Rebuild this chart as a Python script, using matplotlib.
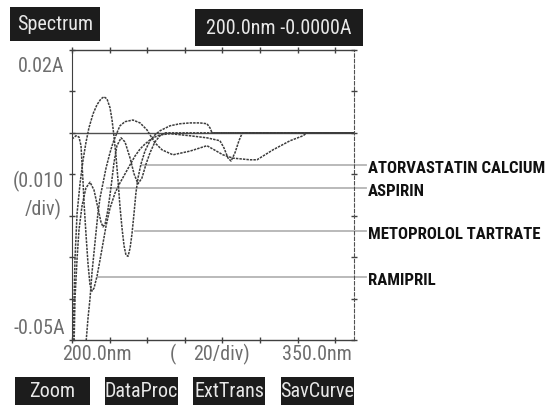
import matplotlib
matplotlib.use("Agg")
import matplotlib.pyplot as plt
from matplotlib import font_manager as fm
from matplotlib.patches import Rectangle

# ---------------- data ----------------
# wavelength (nm) / derivative absorbance (A)
metoprolol_nm = [200.5, 201.1, 201.6, 202.7, 204.3, 205.9, 207.4, 209.0, 211.2, 213.3, 215.4, 217.0,
                 218.6, 220.2, 221.3, 222.3, 223.4, 224.5, 225.5, 226.6, 227.7, 228.7, 229.8, 230.9,
                 231.9, 233.0, 234.0, 235.1, 236.7, 238.8, 241.5, 244.1, 246.8, 252.1, 257.4, 262.8,
                 268.1, 271.8, 273.4, 274.5, 350.0]
metoprolol_a = [-0.0510, -0.0399, -0.0303, -0.0194, -0.0121, -0.0065, -0.0024, 0.0012, 0.0046, 0.0068,
                0.0082, 0.0087, 0.0082, 0.0061, 0.0031, -0.0007, -0.0056, -0.0116, -0.0177, -0.0230,
                -0.0273, -0.0295, -0.0298, -0.0278, -0.0244, -0.0194, -0.0145, -0.0109, -0.0075, -0.0044,
                -0.0019, -0.0005, 0.0005, 0.0017, 0.0022, 0.0024, 0.0024, 0.0022, 0.0012, 0.0000, 0.0000]

atorvastatin_nm = [207.4, 208.5, 209.6, 210.6, 212.2, 213.8, 214.9, 216.5, 218.1, 220.2, 221.8, 223.9,
                   225.5, 228.2, 232.4, 236.2, 239.9, 244.1, 247.9, 253.7, 262.8, 271.8, 280.3, 285.6,
                   294.7, 298.4, 306.9, 316.0, 322.9, 325.0, 350.0]
atorvastatin_a = [-0.0510, -0.0448, -0.0399, -0.0339, -0.0266, -0.0194, -0.0157, -0.0121, -0.0085,
                  -0.0048, -0.0024, 0.0000, 0.0017, 0.0027, 0.0031, 0.0024, 0.0007, -0.0024, -0.0041,
                  -0.0053, -0.0044, -0.0031, -0.0053, -0.0061, -0.0065, -0.0065, -0.0041, -0.0019,
                  -0.0007, 0.0000, 0.0000]

aspirin_nm = [201.1, 201.6, 202.7, 203.7, 205.3, 207.4, 209.6, 211.7, 213.8, 215.4, 216.5, 217.6, 219.1,
              220.7, 222.3, 223.9, 226.1, 228.2, 230.9, 233.0, 235.1, 237.2, 239.4, 241.5, 244.1, 246.8,
              249.5, 350.0]
aspirin_a = [-0.0510, -0.0399, -0.0303, -0.0235, -0.0177, -0.0133, -0.0119, -0.0138, -0.0182, -0.0215,
             -0.0227, -0.0220, -0.0186, -0.0133, -0.0073, -0.0031, -0.0012, -0.0022, -0.0061, -0.0099,
             -0.0123, -0.0109, -0.0075, -0.0048, -0.0022, -0.0007, 0.0000, 0.0000]

ramipril_nm = [200.0, 202.1, 203.7, 204.8, 205.3, 205.9, 206.4, 207.4, 208.5, 209.6, 210.6, 211.7, 213.3,
               214.9, 216.5, 218.1, 220.2, 222.9, 225.5, 228.2, 230.9, 233.5, 236.2, 238.8, 241.5, 244.1,
               246.8, 252.1, 262.8, 271.8, 278.7, 280.8, 283.0, 284.6, 286.7, 288.8, 290.4, 291.5, 350.0]
ramipril_a = [-0.0015, -0.0007, -0.0010, -0.0031, -0.0073, -0.0121, -0.0169, -0.0242, -0.0315, -0.0368,
              -0.0382, -0.0375, -0.0346, -0.0307, -0.0266, -0.0225, -0.0182, -0.0145, -0.0121, -0.0099,
              -0.0077, -0.0056, -0.0039, -0.0027, -0.0017, -0.0010, -0.0005, -0.0002, -0.0007, -0.0012,
              -0.0019, -0.0036, -0.0061, -0.0068, -0.0048, -0.0019, -0.0002, 0.0000, 0.0000]

labels = ["ATORVASTATIN CALCIUM", "ASPIRIN", "METOPROLOL TARTRATE", "RAMIPRIL"]
label_level = [-0.0078, -0.0133, -0.0237, -0.0348]      # A value of each pointer line
label_start = [237.2, 218.6, 233.5, 213.8]              # nm where each pointer line starts

x_ticks = [200, 220, 240, 260, 280, 300, 320, 340]
y_ticks = [-0.05, -0.04, -0.03, -0.02, -0.01, 0.0, 0.01, 0.02]
buttons = ["Zoom", "DataProc", "ExtTrans", "SavCurve"]


# ---------------- fonts ----------------
def pick(cands):
    for c in cands:
        try:
            fm.findfont(fm.FontProperties(family=c), fallback_to_default=False)
            return c
        except Exception:
            pass
    return "DejaVu Sans"

NARROW = pick(["Liberation Sans Narrow", "DejaVu Sans Condensed", "Roboto Condensed", "DejaVu Sans"])

W, H = 551, 406
fig = plt.figure(figsize=(W / 100, H / 100), dpi=100)
fig.patch.set_facecolor("white")

L, R, T, B = 72, 354, 51, 341
ax = fig.add_axes([L / W, 1 - B / H, (R - L) / W, (B - T) / H])
ax.set_xlim(200, 350)
ax.set_ylim(-0.05, 0.02)
ax.set_facecolor("white")

curve_col = "#3c3c3c"
for xs, ys in [(metoprolol_nm, metoprolol_a), (atorvastatin_nm, atorvastatin_a),
               (aspirin_nm, aspirin_a), (ramipril_nm, ramipril_a)]:
    ax.plot(xs, ys, color=curve_col, lw=1.1, linestyle=(0, (1.6, 0.7)), solid_capstyle="butt")

ax.axhline(0, color="#505050", lw=1.0, zorder=1)

# pointer lines and labels
for lab, lvl, st in zip(labels, label_level, label_start):
    ax.plot([st, 356.5], [lvl, lvl], color="#b4b4b4", lw=1.3, clip_on=False, zorder=0)
    ax.text(357.3, lvl - 0.0005, lab, fontfamily=NARROW, fontweight="bold", fontsize=12.1,
            color="#111111", ha="left", va="center", clip_on=False)

# frame
for s in ["top", "bottom"]:
    ax.spines[s].set_color("#404040")
    ax.spines[s].set_linewidth(1.0)
ax.spines["left"].set_color("#404040")
ax.spines["left"].set_linestyle((0, (2, 1)))
ax.spines["right"].set_color("#505050")
ax.spines["right"].set_linestyle((0, (3, 2)))

ax.set_xticks(x_ticks)
ax.set_yticks(y_ticks)
ax.tick_params(axis="both", which="both", direction="inout", length=5, width=1.0, color="#404040",
               top=True, right=True, labelleft=False, labelbottom=False)

# ---------------- screen texts ----------------
gray = "#6e6e6e"
def ftxt(x, y, s, **kw):
    fig.text(x / W, 1 - y / H, s, fontfamily=NARROW, **kw)

ftxt(64, 67, "0.02A", fontsize=14.5, color=gray, ha="right", va="center")
ftxt(64, 181, "(0.010", fontsize=14.5, color=gray, ha="right", va="center")
ftxt(62, 209, "/div)", fontsize=14.5, color=gray, ha="right", va="center")
ftxt(65, 329, "-0.05A", fontsize=14.5, color=gray, ha="right", va="center")
ftxt(62, 354, "200.0nm", fontsize=14.5, color=gray, ha="left", va="center")
ftxt(170, 354, "(", fontsize=14.5, color=gray, ha="left", va="center")
ftxt(193, 354, "20/div)", fontsize=14.5, color=gray, ha="left", va="center")
ftxt(352, 354, "350.0nm", fontsize=14.5, color=gray, ha="right", va="center")

box_col = "#1c1c1c"
def box(x0, y0, x1, y1, s, fs):
    fig.patches.append(Rectangle((x0 / W, 1 - y1 / H), (x1 - x0) / W, (y1 - y0) / H,
                                 transform=fig.transFigure, facecolor=box_col, edgecolor="none"))
    fig.text((x0 + x1) / 2 / W, 1 - (y0 + y1) / 2 / H, s, fontfamily=NARROW, fontsize=fs,
             color="#e8e8e8", ha="center", va="center")

box(10, 8, 100, 42, "Spectrum", 14.5)
box(195, 10, 363, 47, "200.0nm -0.0000A", 14.5)

btn_x = [(15, 90), (105, 178), (193, 265), (281, 354)]
for (x0, x1), s in zip(btn_x, buttons):
    box(x0, 378, x1, 406, s, 14.5)

fig.savefig("out.png", dpi=100)
